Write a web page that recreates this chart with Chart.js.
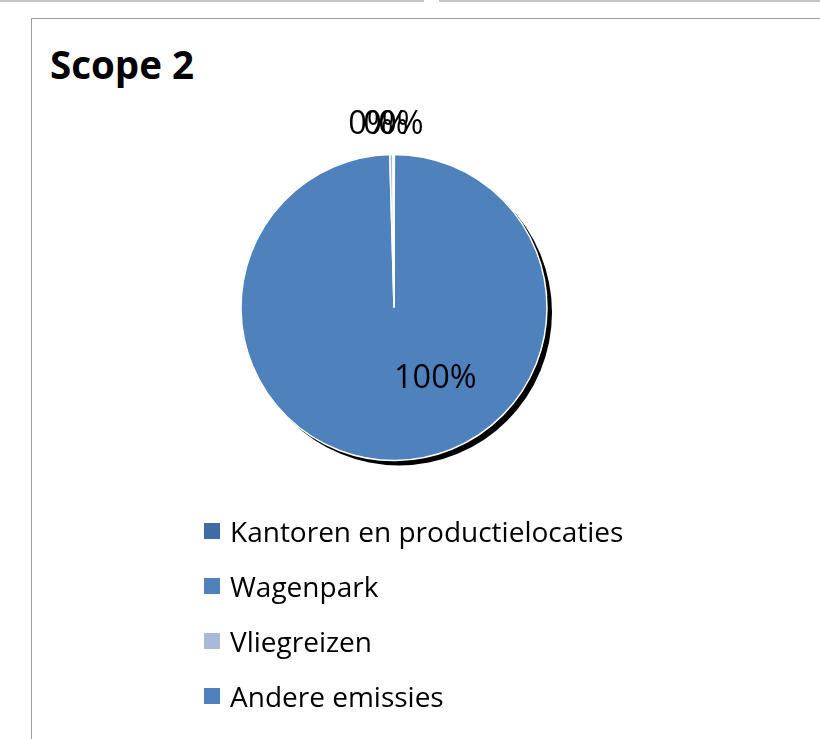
<!DOCTYPE html>
<html>
<head>
<meta charset="utf-8">
<script src="https://cdn.jsdelivr.net/npm/chart.js@4/dist/chart.umd.min.js"></script>
<style>
  html, body { margin: 0; padding: 0; background: #fff; }
  #page { position: relative; width: 820px; height: 739px; overflow: hidden; background: #fff; }
  .topline { position: absolute; top: 0; height: 2px; background: #c4c4c4; }
  #frame { position: absolute; left: 31px; top: 18px; width: 900px; height: 900px;
           border-left: 1px solid #9c9c9c; border-top: 1px solid #9c9c9c; }
  #title { position: absolute; left: 50px; top: 38px; font-family: "Open Sans", Lato, sans-serif;
           font-weight: bold; font-size: 38.5px; color: #000; white-space: nowrap; }
  #chart { position: absolute; left: 0; top: 0; }
  #legend { position: absolute; left: 204px; top: 503px; font-family: "Open Sans", Lato, sans-serif;
            font-size: 28px; color: #000; font-variant-ligatures: none; }
  .item { height: 55px; display: flex; align-items: center; white-space: nowrap; position: relative; }
  .box { width: 16px; height: 16px; margin-right: 10px; }
</style>
</head>
<body>
<div id="page">
  <div class="topline" style="left:0;width:424px"></div>
  <div class="topline" style="left:439px;width:381px"></div>
  <div id="frame"></div>
  <div id="title">Scope 2</div>
  <canvas id="chart" width="820" height="739"></canvas>
  <div id="legend"></div>
</div>
<script>
// ---- data ----
const titleText = "Scope 2";
const categories = ["Kantoren en productielocaties", "Wagenpark", "Vliegreizen", "Andere emissies"];
const shares = [0.04, 99.52, 0.32, 0.12];
const sliceColors = ["#416CA3", "#4F81BD", "#A8B9D9", "#4F81BD"];

// ---- style constants ----
const PIE_RADIUS = 153;
const SHADOW_OFFSET = 5;
const LABEL_FONT = '400 32.5px "Open Sans", Lato, sans-serif';
const INSIDE_LABEL_ANGLE = 150;   // degrees clockwise from 12 o'clock
const INSIDE_LABEL_DIST = 0.54;   // fraction of radius
const OUTSIDE_LABEL_GAP = 30;
const OUTSIDE_LABEL_STEP = 15;
const OUTSIDE_GROUP_SHIFT = -8;

const shadowPlugin = {
  id: 'pieShadow',
  beforeDatasetsDraw(chart) {
    const arc = chart.getDatasetMeta(0).data[0];
    if (!arc) return;
    const ctx = chart.ctx;
    ctx.save();
    ctx.fillStyle = '#000';
    ctx.beginPath();
    ctx.arc(arc.x + SHADOW_OFFSET, arc.y + SHADOW_OFFSET, arc.outerRadius, 0, Math.PI * 2);
    ctx.fill();
    ctx.restore();
  }
};

const labelPlugin = {
  id: 'pctLabels',
  afterDatasetsDraw(chart) {
    const meta = chart.getDatasetMeta(0);
    const data = chart.data.datasets[0].data;
    const total = data.reduce((a, b) => a + b, 0);
    const ctx = chart.ctx;
    ctx.save();
    ctx.font = LABEL_FONT;
    ctx.fillStyle = '#000';
    ctx.textBaseline = 'middle';
    ctx.textAlign = 'center';
    const outside = [];
    meta.data.forEach((arc, i) => {
      const pct = Math.round(data[i] / total * 100) + '%';
      const frac = data[i] / total;
      if (frac > 0.5) {
        const a = INSIDE_LABEL_ANGLE * Math.PI / 180;
        const d = arc.outerRadius * INSIDE_LABEL_DIST;
        ctx.fillText(pct, arc.x + d * Math.sin(a), arc.y - d * Math.cos(a));
      } else {
        const mid = (arc.startAngle + arc.endAngle) / 2;
        const d = arc.outerRadius + OUTSIDE_LABEL_GAP;
        outside.push({ text: pct, x: arc.x + d * Math.cos(mid), y: arc.y + d * Math.sin(mid), cx: arc.x });
      }
    });
    if (outside.length) {
      const n = outside.length;
      const cx = outside[0].cx + OUTSIDE_GROUP_SHIFT;
      outside.forEach((o, k) => {
        ctx.fillText(o.text, cx + (k - (n - 1) / 2) * OUTSIDE_LABEL_STEP, o.y);
      });
    }
    ctx.restore();
  }
};

const chart = new Chart(document.getElementById('chart'), {
  type: 'pie',
  data: {
    labels: categories,
    datasets: [{
      data: shares,
      backgroundColor: sliceColors,
      borderColor: '#ffffff',
      borderWidth: 1.5,
      hoverOffset: 0
    }]
  },
  options: {
    responsive: false,
    animation: false,
    radius: PIE_RADIUS,
    layout: { padding: { left: 241, right: 273, top: 154, bottom: 278 } },
    plugins: {
      legend: { display: false },
      tooltip: { enabled: false },
      title: { display: false }
    }
  },
  plugins: [shadowPlugin, labelPlugin]
});

// HTML legend from chart's own legend items
const legendEl = document.getElementById('legend');
chart.options.plugins.legend.labels.generateLabels(chart).forEach(item => {
  const row = document.createElement('div');
  row.className = 'item';
  const box = document.createElement('span');
  box.className = 'box';
  box.style.background = item.fillStyle;
  const txt = document.createElement('span');
  txt.textContent = item.text;
  row.appendChild(box);
  row.appendChild(txt);
  legendEl.appendChild(row);
});
document.getElementById('title').textContent = titleText;
</script>
</body>
</html>
